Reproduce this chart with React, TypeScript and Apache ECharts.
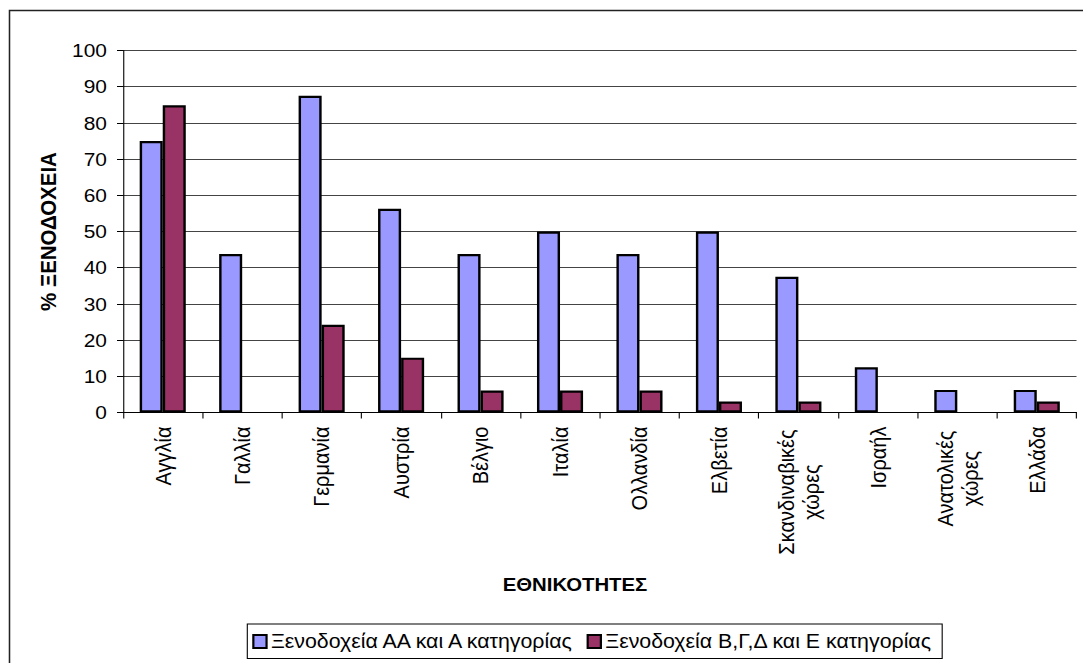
import React, { useEffect, useRef } from "react";
import * as echarts from "echarts";

const categories = [
  "Αγγλία",
  "Γαλλία",
  "Γερμανία",
  "Αυστρία",
  "Βέλγιο",
  "Ιταλία",
  "Ολλανδία",
  "Ελβετία",
  "Σκανδιναβικές\nχώρες",
  "Ισραήλ",
  "Ανατολικές\nχώρες",
  "Ελλάδα",
];

const seriesNames = [
  "Ξενοδοχεία ΑΑ και Α κατηγορίας",
  "Ξενοδοχεία Β,Γ,Δ και Ε κατηγορίας",
];

const upperClass = [75, 43.75, 87.5, 56.25, 43.75, 50, 43.75, 50, 37.5, 12.5, 6.25, 6.25];
const lowerClass = [84.85, 0, 24.24, 15.15, 6.06, 6.06, 6.06, 3.03, 3.03, 0, 0, 3.03];

const yTicks = { min: 0, max: 100, interval: 10 };

const FONT = "'Liberation Sans', Arial, sans-serif";

// the chart is laid out narrower and widened with a horizontal stretch
const STRETCH = 1.1;
const PAGE_W = 1083;
const PAGE_H = 663;
const sx = (v: number) => v / STRETCH;

// zero-height bars get no outline so nothing shows on the baseline
const toBarData = (values: number[]) =>
  values.map((v) => (v === 0 ? { value: v, itemStyle: { borderWidth: 0 } } : v));

export default function App() {
  const ref = useRef<HTMLDivElement>(null);

  useEffect(() => {
    if (!ref.current) return;
    const chart = echarts.init(ref.current, undefined, { renderer: "svg" });

    // two-line category labels: centre each line within the block
    const formatLabel = (v: string) => {
      if (v.indexOf("\n") < 0) return v;
      const lines = v.split("\n");
      const style = lines[0].length > 11 ? "w" : "n";
      return lines.map((l) => `{${style}|${l}}`).join("\n");
    };

    const labelText = { fontFamily: FONT, fontSize: 20, color: "#000", lineHeight: 23 };

    chart.setOption({
      animation: false,
      backgroundColor: "#ffffff",
      textStyle: { fontFamily: FONT, color: "#000" },
      graphic: [
        {
          type: "rect",
          shape: { x: sx(9.5), y: 10.5, width: 1200, height: 800 },
          style: { fill: "none", stroke: "#222", lineWidth: 1.4 },
          silent: true,
          z: -1,
        },
      ],
      grid: { left: sx(123), right: sx(7), top: 50.5, bottom: 250.5, containLabel: false },
      legend: {
        left: sx(247.3),
        top: 624,
        data: seriesNames,
        itemWidth: 12,
        itemHeight: 13,
        itemGap: 9,
        padding: [8, 9, 7.5, 4.5],
        borderColor: "#000",
        borderWidth: 1,
        backgroundColor: "#fff",
        icon: "rect",
        textStyle: { fontFamily: FONT, fontSize: 19.4, color: "#000", padding: [0, 0, 0, -1] },
        itemStyle: { borderColor: "#000", borderWidth: 2 },
      },
      xAxis: {
        type: "category",
        data: categories,
        name: "ΕΘΝΙΚΟΤΗΤΕΣ",
        nameLocation: "middle",
        nameGap: 162,
        nameTextStyle: {
          fontFamily: FONT,
          fontSize: 18.5,
          fontWeight: "bold",
          color: "#000",
          padding: [0, 45, 0, 0],
        },
        axisLine: { lineStyle: { color: "#000", width: 1 } },
        axisTick: { show: true, length: 6, alignWithLabel: false, lineStyle: { color: "#000" } },
        axisLabel: {
          rotate: 90,
          interval: 0,
          margin: 14,
          ...labelText,
          formatter: formatLabel,
          rich: {
            w: { width: 131, align: "center", ...labelText },
            n: { width: 104, align: "center", ...labelText },
          },
        },
      },
      yAxis: {
        type: "value",
        min: yTicks.min,
        max: yTicks.max,
        interval: yTicks.interval,
        name: "% ΞΕΝΟΔΟΧΕΙΑ",
        nameLocation: "middle",
        nameGap: 56,
        nameRotate: 90,
        nameTextStyle: { fontFamily: FONT, fontSize: 20.5, fontWeight: "bold", color: "#000" },
        axisLine: { show: true, lineStyle: { color: "#000", width: 1 } },
        axisTick: { show: true, length: sx(6), lineStyle: { color: "#000" } },
        axisLabel: { fontFamily: FONT, fontSize: 19, color: "#000", margin: sx(16) },
        splitLine: { show: true, lineStyle: { color: "#444", width: 1 } },
      },
      series: [
        {
          name: seriesNames[0],
          type: "bar",
          data: toBarData(upperClass),
          barWidth: "29%",
          barGap: "0%",
          itemStyle: { color: "#9999FF", borderColor: "#000", borderWidth: 2.2 },
        },
        {
          name: seriesNames[1],
          type: "bar",
          data: toBarData(lowerClass),
          barWidth: "29%",
          barGap: "0%",
          itemStyle: { color: "#993366", borderColor: "#000", borderWidth: 2.2 },
        },
      ],
    });

    return () => chart.dispose();
  }, []);

  return (
    <div
      style={{
        position: "fixed",
        left: 0,
        top: 0,
        width: PAGE_W,
        height: PAGE_H,
        overflow: "hidden",
        background: "#fff",
      }}
    >
      <div
        ref={ref}
        style={{
          width: PAGE_W / STRETCH,
          height: PAGE_H,
          transform: `scaleX(${STRETCH})`,
          transformOrigin: "0 0",
        }}
      />
    </div>
  );
}
